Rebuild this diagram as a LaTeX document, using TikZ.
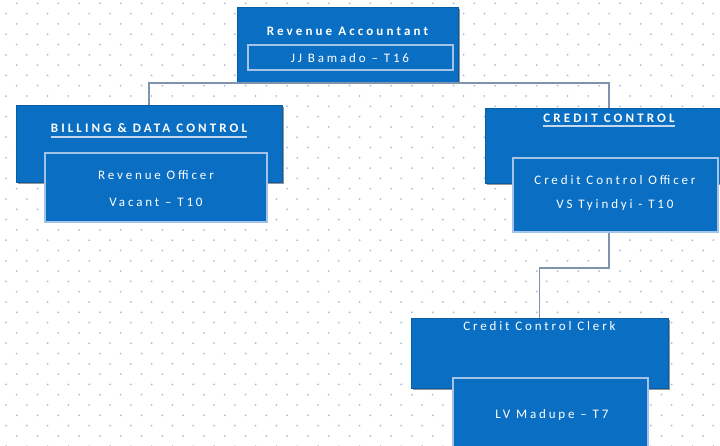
\documentclass[tikz,border=0pt]{standalone}
\usepackage{fontspec}
\setmainfont{Carlito}
\newfontfamily\txtfont[LetterSpace=22]{Carlito}
\newfontfamily\ttlfont[LetterSpace=24]{Carlito}
\usetikzlibrary{shadows}
\definecolor{boxblue}{HTML}{0A6FC2}
\definecolor{edgeblue}{HTML}{A3C4E8}
\definecolor{dotblue}{HTML}{9FBDE2}
\definecolor{linegray}{HTML}{7F93AC}
\definecolor{ulcol}{HTML}{C5D5EA}
\tikzset{
  outerbox/.style={draw=boxblue!85!black, line width=0.6pt, fill=boxblue, inner sep=0pt,
    drop shadow={shadow xshift=1.6pt, shadow yshift=-1.6pt, fill=black!75, opacity=0.55}},
  innerbox/.style={draw=edgeblue, line width=1.4pt, fill=boxblue, inner sep=0pt},
  namebox/.style={draw=edgeblue, line width=1.2pt, inner sep=0pt},
  title/.style={text=white, inner sep=0pt, font=\ttlfont\bfseries\fontsize{13}{15}\selectfont},
  label/.style={text=white, inner sep=0pt, font=\txtfont\fontsize{13}{15}\selectfont},
  conn/.style={draw=linegray, line width=1.5pt},
  uline/.style={draw=ulcol, line width=2pt}
}
\begin{document}
\begin{tikzpicture}[x=1pt,y=-1pt]
\useasboundingbox (0,0) rectangle (720,445);
\clip (0,0) rectangle (720,445);
% dotted background
\foreach \j in {0,...,43}{
  \pgfmathsetmacro{\yy}{3.3+10.3*\j}
  \pgfmathtruncatemacro{\odd}{mod(\j,2)}
  \pgfmathsetmacro{\xs}{\odd==1 ? 6 : 16.7}
  \foreach \k in {0,...,34}{
    \fill[dotblue] ({\xs+20.8*\k},\yy) circle (1pt);
  }
}
\coordinate (bus) at (347,83);
\coordinate (elbow) at (574,268);
% boxes
\node[outerbox, minimum width=221pt, minimum height=75pt] (ra) at (347.5,44.5) {};
\node[namebox, minimum width=205pt, minimum height=25pt] (ran) at (350.5,57.5) {};
\node[outerbox, minimum width=266pt, minimum height=77pt] (bdc) at (149,143.5) {};
\node[outerbox, minimum width=248pt, minimum height=75pt] (cc) at (609,145.5) {};
\node[outerbox, minimum width=257pt, minimum height=70pt] (clerk) at (539.5,353) {};
% connectors
\draw[conn] (bdc.north) |- (bus) -| (cc.north);
\draw[conn] (cc.south |- 0,232) |- (elbow) -| (clerk.north);
\node[innerbox, minimum width=222pt, minimum height=69pt] (ro) at (156,187.5) {};
\node[innerbox, minimum width=205pt, minimum height=74pt] (cco) at (615.5,195) {};
\node[innerbox, minimum width=195pt, minimum height=80pt] (lvm) at (550.5,418) {};
% texts
\node[title] (rat) at (347.5,31) {Revenue Accountant};
\node[label] (ratn) at (350,58) {JJ Bamado – T16};
\node[title] (bdct) at (149,128) {BILLING \& DATA CONTROL};
\draw[uline] ([yshift=-4.5pt]bdct.south west) -- ([yshift=-4.5pt]bdct.south east);
\node[label] (rot1) at (156,175) {Revenue Officer};
\node[label] (rot2) at (156,202) {Vacant – T10};
\node[title] (cct) at (609,118) {CREDIT CONTROL};
\draw[uline] ([yshift=-3.5pt]cct.south west) -- ([yshift=-3.5pt]cct.south east);
\node[label] (ccot1) at (615,180) {Credit Control Officer};
\node[label] (ccot2) at (615,205) {VS Tyindyi - T10};
\begin{scope}
\clip (clerk.north west) rectangle (clerk.south east);
\node[label] (clt) at (539.5,326) {Credit Control Clerk};
\end{scope}
\node[label] (lvt) at (552,415) {LV Madupe – T7};
\end{tikzpicture}
\end{document}
